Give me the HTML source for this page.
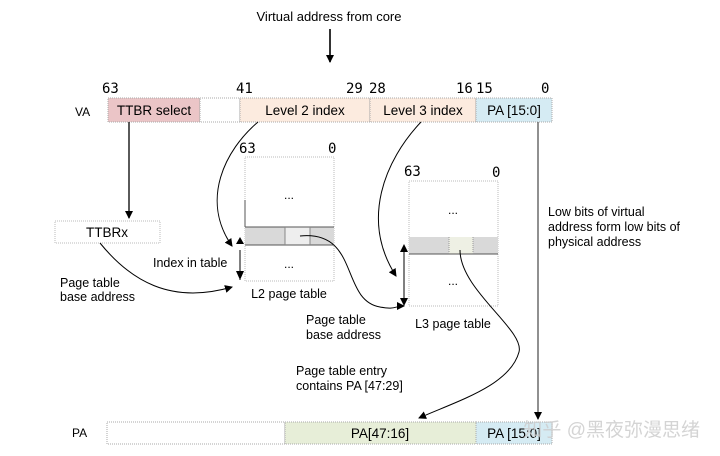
<!DOCTYPE html>
<html><head><meta charset="utf-8"><style>
body{margin:0;background:#fff;width:720px;height:456px;overflow:hidden}
svg{display:block;font-family:"Liberation Sans","Noto Sans CJK SC",sans-serif}
.m{font-family:"DejaVu Sans Mono","Liberation Mono",monospace}
</style></head><body>
<svg width="720" height="456" viewBox="0 0 720 456" xmlns="http://www.w3.org/2000/svg">
<defs><marker id="a" markerWidth="8" markerHeight="8" refX="7" refY="4" orient="auto" markerUnits="userSpaceOnUse"><path d="M0,0 L8,4 L0,8 z" fill="#000"/></marker></defs>
<text x="329" y="21" font-size="13" text-anchor="middle">Virtual address from core</text>
<line x1="330" y1="29" x2="330" y2="62" stroke="#000" stroke-width="1.6" marker-end="url(#a)"/>
<g class="m" font-size="14"><text x="102" y="93">63</text><text x="236" y="93">41</text><text x="346" y="93">29</text><text x="369" y="93">28</text><text x="456" y="93">16</text><text x="476" y="93">15</text><text x="541" y="93">0</text></g>
<text x="75" y="116" font-size="12">VA</text>
<g stroke="#aaa" stroke-dasharray="1,1">
<rect x="108" y="98" width="92" height="24" fill="#ebc5c7"/>
<rect x="200" y="98" width="40" height="24" fill="#fff"/>
<rect x="240" y="98" width="130" height="24" fill="#fcebdf"/>
<rect x="370" y="98" width="106" height="24" fill="#fcebdf"/>
<rect x="476" y="98" width="76" height="24" fill="#d5ebf3"/>
</g>
<g font-size="13.5" text-anchor="middle"><text x="154" y="115">TTBR select</text><text x="305" y="115">Level 2 index</text><text x="423" y="115">Level 3 index</text><text x="514" y="115">PA [15:0]</text></g>
<line x1="129" y1="122" x2="129" y2="218" stroke="#000" stroke-width="1.3" marker-end="url(#a)"/>
<rect x="55" y="221" width="105" height="22" fill="#fff" stroke="#bbb" stroke-dasharray="1,1"/>
<text x="107" y="237" font-size="13.5" text-anchor="middle">TTBRx</text>
<text x="60" y="287" font-size="12.5">Page table</text><text x="60" y="301" font-size="12.5">base address</text>
<path d="M100,243 C130,280 170,305 232,287" fill="none" stroke="#000" marker-end="url(#a)"/>
<g class="m" font-size="14"><text x="239" y="153">63</text><text x="328" y="153">0</text></g>
<rect x="245" y="157" width="89" height="124" fill="#fff" stroke="#bbb" stroke-dasharray="1,1"/>
<rect x="245" y="227" width="40" height="18" fill="#d9d9d9"/><rect x="285" y="227" width="25" height="18" fill="#eeeeee"/><rect x="310" y="227" width="24" height="18" fill="#d9d9d9"/>
<line x1="245" y1="227" x2="334" y2="227" stroke="#555"/><line x1="245" y1="245" x2="334" y2="245" stroke="#555"/>
<line x1="285" y1="227" x2="285" y2="245" stroke="#888"/><line x1="310" y1="227" x2="310" y2="245" stroke="#888"/>
<line x1="245" y1="200" x2="245" y2="227" stroke="#555"/>
<text x="289" y="199" font-size="12" text-anchor="middle">...</text><text x="289" y="268" font-size="12" text-anchor="middle">...</text>
<text x="289" y="298" font-size="12.5" text-anchor="middle">L2 page table</text>
<line x1="240" y1="250" x2="240" y2="280" stroke="#000"/><path d="M236,244 L240,237 L244,244z M236,271 L240,280 L244,271z"/>
<text x="153" y="267" font-size="12.5">Index in table</text>
<path d="M258,122 C225,150 200,200 232,246" fill="none" stroke="#000" marker-end="url(#a)"/>
<g class="m" font-size="14"><text x="404" y="176">63</text><text x="492" y="177">0</text></g>
<rect x="409" y="181" width="89" height="125" fill="#fff" stroke="#bbb" stroke-dasharray="1,1"/>
<rect x="409" y="237" width="40" height="17" fill="#d9d9d9"/><rect x="449" y="237" width="24" height="17" fill="#eef0e4"/><rect x="473" y="237" width="25" height="17" fill="#d9d9d9"/>
<line x1="409" y1="254" x2="498" y2="254" stroke="#555"/>
<line x1="449" y1="237" x2="449" y2="254" stroke="#999" stroke-dasharray="1,1"/><line x1="473" y1="237" x2="473" y2="254" stroke="#999" stroke-dasharray="1,1"/>
<text x="453" y="214" font-size="12" text-anchor="middle">...</text><text x="453" y="285" font-size="12" text-anchor="middle">...</text>
<text x="453" y="328" font-size="12.5" text-anchor="middle">L3 page table</text>
<line x1="404" y1="250" x2="404" y2="301" stroke="#000"/><path d="M400,252 L404,244 L408,252z M400,298 L404,306 L408,298z"/>
<path d="M421,122 C385,160 360,220 396,276" fill="none" stroke="#000" marker-end="url(#a)"/>
<path d="M300,236 C360,230 340,300 380,307 C395,310 395,306 404,306" fill="none" stroke="#000" marker-end="url(#a)"/>
<text x="306" y="324" font-size="12.5">Page table</text><text x="306" y="339" font-size="12.5">base address</text>
<path d="M460,250 C460,290 525,330 519,352 C510,385 460,400 419,418" fill="none" stroke="#000" marker-end="url(#a)"/>
<text x="296" y="375" font-size="12.5">Page table entry</text><text x="296" y="390" font-size="12.5">contains PA [47:29]</text>
<line x1="538" y1="122" x2="538" y2="419" stroke="#555" stroke-width="1.3" marker-end="url(#a)"/>
<text x="548" y="216" font-size="12.5">Low bits of virtual</text><text x="548" y="231" font-size="12.5">address form low bits of</text><text x="548" y="246" font-size="12.5">physical address</text>
<text x="72" y="437" font-size="12">PA</text>
<g stroke="#aaa" stroke-dasharray="1,1">
<rect x="107" y="422" width="178" height="22" fill="#fff"/>
<rect x="285" y="422" width="191" height="22" fill="#e7eed8"/>
<rect x="476" y="422" width="76" height="22" fill="#d5ebf3"/>
</g>
<text x="380" y="438" font-size="13.5" text-anchor="middle">PA[47:16]</text>
<text x="514" y="438" font-size="13.5" text-anchor="middle">PA [15:0]</text>
<text x="700" y="436" font-size="19" fill="#ccc" fill-opacity="0.85" text-anchor="end">知乎 @黑夜弥漫思绪</text>
</svg>
</body></html>
